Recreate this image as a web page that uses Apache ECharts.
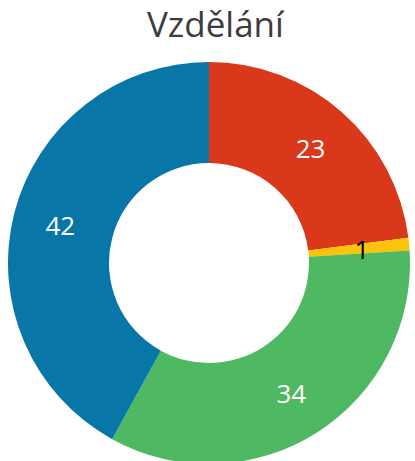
<!DOCTYPE html>
<html><head><meta charset="utf-8">
<script src="https://cdn.jsdelivr.net/npm/echarts@6/dist/echarts.min.js"></script>
<style>html,body{margin:0;padding:0;background:#fff}#c{width:415px;height:461px}</style>
</head><body><div id="c"></div>
<script>
const categories = ['A', 'B', 'C', 'D'];
const values = [23, 1, 34, 42];
const colors = ['#d9391a', '#fdc20a', '#4fb862', '#0877a7'];
const labelColors = ['#ffffff', '#000000', '#ffffff', '#ffffff'];
const titleText = 'Vzdělání';

const chart = echarts.init(document.getElementById('c'), null, {renderer: 'svg'});
chart.setOption({
  animation: false,
  title: {
    text: titleText, left: 147, top: 6, padding: 0,
    textStyle: {fontFamily: 'Open Sans', fontWeight: 500, fontSize: 35, color: '#3c3c3e'}
  },
  series: [{
    type: 'pie',
    center: [209, 263],
    radius: [100, 201],
    startAngle: 90,
    clockwise: true,
    data: categories.map((c, i) => ({
      name: c, value: values[i],
      itemStyle: {color: colors[i]},
      label: {color: labelColors[i]}
    })),
    label: {
      show: true, position: 'inside', formatter: '{c}',
      fontFamily: 'Open Sans', fontSize: 26
    },
    labelLine: {show: false},
    itemStyle: {borderWidth: 0}
  }]
});
</script></body></html>
